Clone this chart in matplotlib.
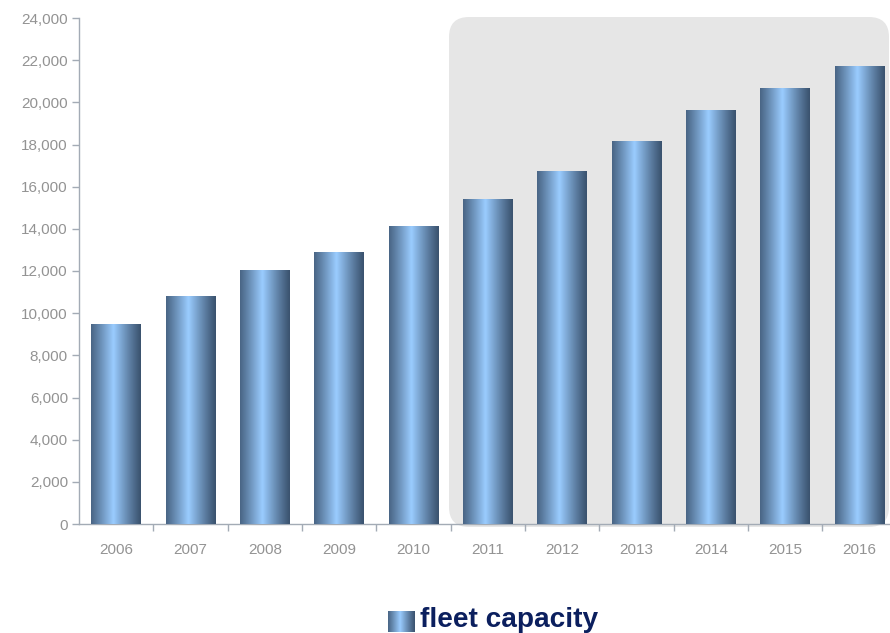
import matplotlib
matplotlib.use("Agg")
import matplotlib.pyplot as plt
import numpy as np
from matplotlib.patches import FancyBboxPatch
from matplotlib.transforms import IdentityTransform
from matplotlib.ticker import FuncFormatter, FixedLocator

years = ["2006", "2007", "2008", "2009", "2010", "2011",
         "2012", "2013", "2014", "2015", "2016"]
capacity = [9500, 10800, 12050, 12900, 14150, 15400,
            16750, 18150, 19650, 20700, 21700]
series_name = "fleet capacity"

plt.rcParams['font.family'] = ['Liberation Sans', 'DejaVu Sans']

fig = plt.figure(figsize=(8.9, 6.33), dpi=100)
ax = fig.add_axes([79 / 890, 109 / 633, 811 / 890, 506 / 633])

# horizontal gradient for the "cylinder" look
dark = np.array([0x3a, 0x52, 0x6e]) / 255
light = np.array([0x9a, 0xcc, 0xff]) / 255
t = np.linspace(0, 1, 200)
w = np.clip(1 - np.abs(t - 0.45) / 0.55, 0, 1) ** 1.1
grad = dark[None, :] * (1 - w[:, None]) + light[None, :] * w[:, None]
grad = grad[None, :, :]

x = np.arange(len(years))
bars = ax.bar(x, capacity, width=0.67, color="none", edgecolor="none", zorder=3)
for b in bars:
    x0, y0 = b.get_x(), b.get_y()
    im = ax.imshow(grad, extent=(x0, x0 + b.get_width(), y0, y0 + b.get_height()),
                   aspect="auto", zorder=3, interpolation="bilinear")
    im.set_clip_path(b)

ax.set_xlim(-0.5, 10.41)
ax.set_ylim(0, 24000)
ax.set_aspect("auto")

# grey rounded highlight box behind forecast years
box = FancyBboxPatch((449, 106), 440, 510, boxstyle="round,pad=0,rounding_size=20",
                     transform=IdentityTransform(), facecolor="#e6e6e6",
                     edgecolor="none", zorder=-1)
fig.patches.append(box)
ax.patch.set_alpha(0)

for s in ["top", "right"]:
    ax.spines[s].set_visible(False)
for s in ["left", "bottom"]:
    ax.spines[s].set_color("#a3abb5")
    ax.spines[s].set_linewidth(1.0)

ax.set_yticks(np.arange(0, 24001, 2000))
ax.yaxis.set_major_formatter(FuncFormatter(lambda v, p: f"{int(v):,}"))
ax.tick_params(axis="y", colors="#a3abb5", labelcolor="#939393",
               labelsize=11, length=5, width=1, pad=3)

ax.xaxis.set_major_locator(FixedLocator(x + 0.5))
ax.xaxis.set_major_formatter(FuncFormatter(lambda v, p: ""))
ax.xaxis.set_minor_locator(FixedLocator(x))
ax.set_xticklabels(years, minor=True)
ax.tick_params(axis="x", which="major", colors="#a3abb5", length=5, width=1)
ax.tick_params(axis="x", which="minor", length=0, labelcolor="#939393",
               labelsize=11, pad=14)

# legend
sw = fig.add_axes([388 / 890, 1 / 633, 27 / 890, 21 / 633])
sw.imshow(grad, aspect="auto", extent=(0, 1, 0, 1), interpolation="bilinear")
sw.axis("off")
fig.text(420 / 890, 6 / 633, series_name, fontsize=20.2, fontweight="bold",
         color="#0b1f5e", va="baseline", ha="left")

fig.savefig("out.png", dpi=100)
